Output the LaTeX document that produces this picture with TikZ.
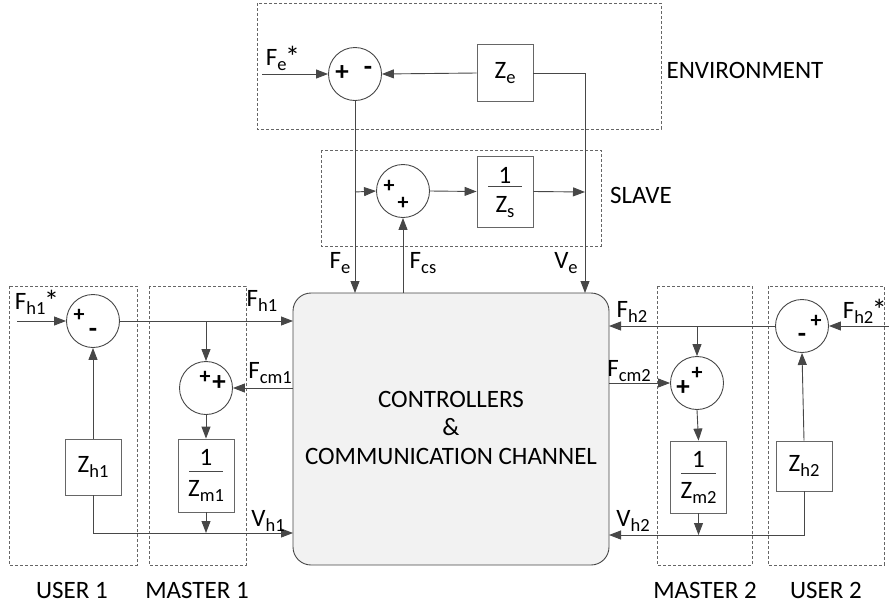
\documentclass[tikz,border=0pt]{standalone}
\usepackage{fontspec}
\setmainfont{Carlito}
\usetikzlibrary{arrows.meta}
\definecolor{ln}{HTML}{474747}
\definecolor{bx}{HTML}{666666}
\definecolor{fillg}{HTML}{F2F2F2}
\newcommand{\sbs}[1]{\raisebox{-0.4ex}{\fontsize{18.5}{18}\selectfont #1}}
\newcommand{\stp}{\kern-1.5pt\raisebox{-0.15ex}{\fontsize{30}{30}\selectfont *}}
\begin{document}
\begin{tikzpicture}[x=1pt,y=-1pt, font=\fontsize{25}{28}\selectfont,
  ln/.style={draw=ln, line width=0.9pt},
  arr/.style={draw=ln, line width=0.9pt, -{Triangle[length=12pt,width=9pt]}},
  sumc/.style={circle, draw=ln, line width=0.9pt, minimum size=53pt, inner sep=0pt},
  blk/.style={rectangle, draw=bx, line width=0.9pt, inner sep=0pt, minimum width=56pt},
  grp/.style={draw=bx, line width=0.7pt, dash pattern=on 3pt off 2pt},
  lbl/.style={inner sep=0pt},
  sgn/.style={inner sep=0pt, font=\fontsize{27}{27}\selectfont\bfseries},
  ssgn/.style={inner sep=0pt, font=\fontsize{22}{22}\selectfont\bfseries}]
\useasboundingbox (0,0) rectangle (889,606);

% group boxes
\draw[grp] (257,3) rectangle (661,129);
\draw[grp] (321,150) rectangle (601,246);
\draw[grp] (9,286) rectangle (137,565);
\draw[grp] (149,286) rectangle (246,565);
\draw[grp] (657,286) rectangle (752,565);
\draw[grp] (768,286) rectangle (884,565);

% main box
\node[draw=ln, fill=fillg, line width=0.9pt, rounded corners=18pt, minimum width=316pt, minimum height=272pt, inner sep=0pt] (main) at (451,429) {};
\node[lbl] (c1) at (451,399) {CONTROLLERS};
\node[lbl] (c2) at (451,427) {\&};
\node[lbl] (c3) at (451,456) {COMMUNICATION CHANNEL};

% environment
\node[sumc] (se) at (355,74) {};
\node[sgn] at (342,73) {+};
\node[sgn] at (368,71) {-};
\node[blk, minimum height=57pt] (ze) at (505,73) {Z\sbs{e}};
\coordinate (fes) at (262,74);
\node[lbl] at (283,58) {F\sbs{e}\stp};
\draw[arr] (fes) -- (se.west);
\draw[arr] (ze.west) -- (se.east);
\node[lbl] at (745,70) {ENVIRONMENT};

% slave
\node[sumc] (ss) at (403,191) {};
\node[ssgn] at (389,186) {+};
\node[ssgn] at (403,203) {+};
\node[blk, minimum height=71pt] (zs) at (505,191.5) {};
\node[lbl] at (505,175) {1};
\draw[ln] (488,186) -- (522,186);
\node[lbl] at (505,207) {Z\sbs{s}};
\node[lbl] at (641,195) {SLAVE};
\coordinate (feBr) at (355,192);
\coordinate (veBr) at (585,192);
\coordinate (feIn) at (355,293);
\coordinate (fcsOut) at (403,293);
\coordinate (veIn) at (585,293);
\draw[arr] (se.south) -- (feIn);
\draw[arr] (feBr) -- (ss.west);
\draw[arr] (ss.east) -- (zs.west);
\draw[arr] (zs.east) -- (veBr);
\draw[arr] (fcsOut) -- (ss.south);
\draw[arr] (ze.east) -| (veIn);
\node[lbl] at (340,263) {F\sbs{e}};
\node[lbl] at (423,263) {F\sbs{cs}};
\node[lbl] at (566,263) {V\sbs{e}};

% user 1 / master 1
\node[sumc] (su1) at (93,321) {};
\node[ssgn] at (79,315) {+};
\node[sgn] at (93,333) {-};
\node[sumc] (sm1) at (206,388) {};
\node[ssgn] at (205,377) {+};
\node[sgn] at (219,383) {+};
\node[blk, minimum height=56pt] (zh1) at (93,467) {Z\sbs{h1}};
\node[blk, minimum height=73pt] (zm1) at (206,475.5) {};
\node[lbl] at (206,457) {1};
\draw[ln] (189,471) -- (223,471);
\node[lbl] at (206,491) {Z\sbs{m1}};
\coordinate (fh1s) at (17,321);
\coordinate (fh1In) at (293,321);
\coordinate (fh1Br) at (206,321);
\coordinate (fcm1) at (293,388);
\coordinate (vh1In) at (293,533);
\coordinate (vm1) at (206,533);
\draw[arr] (fh1s) -- (su1.west);
\draw[arr] (su1.east) -- (fh1In);
\draw[arr] (fh1Br) -- (sm1.north);
\draw[arr] (fcm1) -- (sm1.east);
\draw[arr] (sm1.south) -- (zm1.north);
\draw[arr] (zh1.north) -- (su1.south);
\draw[arr] (zh1.south) |- (vh1In);
\draw[arr] (zm1.south) -- (vm1);
\node[lbl] at (37,302) {F\sbs{h1}\stp};
\node[lbl] at (262,301) {F\sbs{h1}};
\node[lbl] at (270,373) {F\sbs{cm1}};
\node[lbl] at (268,521) {V\sbs{h1}};
\node[lbl] at (72,590) {USER 1};
\node[lbl] at (197,590) {MASTER 1};

% user 2 / master 2
\node[sumc] (su2) at (802,326) {};
\node[ssgn] at (816,321) {+};
\node[sgn] at (802,338) {-};
\node[sumc] (sm2) at (697,383) {};
\node[sgn] at (683,388) {+};
\node[ssgn] at (697,373) {+};
\node[blk, minimum height=50pt] (zh2) at (804,466) {Z\sbs{h2}};
\node[blk, minimum height=72pt] (zm2) at (698.5,477) {};
\node[lbl] at (698.5,459) {1};
\draw[ln] (681,473) -- (716,473);
\node[lbl] at (698.5,493) {Z\sbs{m2}};
\coordinate (fh2s) at (889,326);
\coordinate (fh2In) at (609,326);
\coordinate (fh2Br) at (697,326);
\coordinate (fcm2) at (609,383);
\coordinate (vh2In) at (609,535);
\coordinate (vm2) at (698.5,535);
\draw[arr] (fh2s) -- (su2.east);
\draw[arr] (su2.west) -- (fh2In);
\draw[arr] (fh2Br) -- (sm2.north);
\draw[arr] (fcm2) -- (sm2.west);
\draw[arr] (sm2.south) -- (zm2.north);
\draw[arr] (zh2.north) -- (su2.south);
\draw[arr] (zh2.south) |- (vh2In);
\draw[arr] (zm2.south) -- (vm2);
\node[lbl, anchor=east] at (887,311) {F\sbs{h2}\stp};
\node[lbl] at (632,312) {F\sbs{h2}};
\node[lbl] at (629,371) {F\sbs{cm2}};
\node[lbl] at (633,521) {V\sbs{h2}};
\node[lbl] at (705,590) {MASTER 2};
\node[lbl] at (826,590) {USER 2};
\end{tikzpicture}
\end{document}
